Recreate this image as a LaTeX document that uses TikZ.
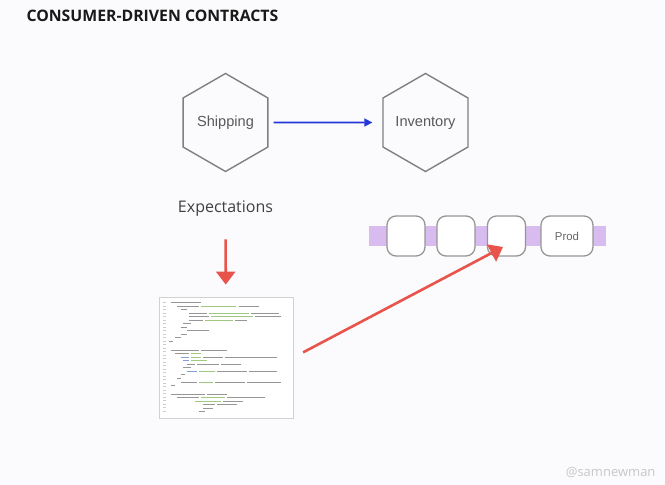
\documentclass[tikz,border=0pt]{standalone}
\usepackage{fontspec}
\setmainfont{Open Sans}
\newfontfamily\helv{Liberation Sans}
\usetikzlibrary{shapes.geometric,arrows.meta}

\definecolor{bgcol}{RGB}{251,251,253}
\definecolor{hexgray}{RGB}{128,128,128}
\definecolor{boxgray}{RGB}{150,150,150}
\definecolor{callblue}{RGB}{35,55,220}
\definecolor{testred}{RGB}{232,84,76}
\definecolor{pipepurple}{RGB}{216,188,240}
\definecolor{cg}{RGB}{150,150,150}
\definecolor{cgr}{RGB}{160,200,130}
\definecolor{cb}{RGB}{130,160,215}

\begin{document}
\begin{tikzpicture}[x=1pt,y=1pt,
  service/.style={regular polygon,regular polygon sides=6,shape border rotate=30,
    draw=hexgray,line width=1.4pt,minimum size=98pt,inner sep=0pt,
    font=\helv\fontsize{14.6}{16}\selectfont,text=black!65},
  stage/.style={draw=boxgray,line width=1.3pt,fill=white,rounded corners=9pt,
    minimum width=38pt,minimum height=40pt,inner sep=0pt,
    font=\helv\fontsize{11.4}{13}\selectfont,text=black!60},
  call/.style={draw=callblue,line width=1.6pt,-{Triangle[width=8pt,length=8pt]}},
  test/.style={draw=testred,line width=2.6pt,-{Triangle[width=19pt,length=13pt]}},
  node distance=50pt]
  \useasboundingbox[fill=bgcol] (0,0) rectangle (665,485);
  \node[anchor=base west,font=\bfseries\fontsize{15.8}{18}\selectfont,text=black!90] (title) at (23,463) {CONSUMER-DRIVEN CONTRACTS};

  % services
  \node[service] (ship) at (225.5,362.5) {Shipping};
  \node[service] (inv) [right of = ship, node distance=200pt] {Inventory};
  \node[font=\fontsize{16}{18}\selectfont,text=black!75,anchor=base] (exp) at (225.5,272) {Expectations};

  % contract document
  \node[draw=black!18,line width=0.8pt,fill=white,minimum width=134pt,minimum height=121pt,inner sep=0pt] (doc) at (226,127.5) {};
  \foreach \dy in {6,9.5,...,117}
    \draw[black!20,line width=0.8pt] ([xshift=4pt,yshift=-\dy pt]doc.north west) -- ++(3,0);
  \foreach \dy/\dx/\len/\col in {6/12/30/cg, 10/18/22/cg, 10/42/35/cgr, 10/80/20/cg, 13/22/6/cg,
      17/30/18/cg, 17/50/40/cgr, 17/92/28/cg, 20/30/20/cg, 20/52/42/cgr, 20/96/26/cg,
      24/30/14/cg, 24/46/28/cgr, 24/76/12/cg, 27/24/8/cg, 31/22/6/cg, 34/28/22/cg,
      38/22/6/cg, 41/16/6/cg, 45/10/4/cg,
      54/12/28/cg, 54/42/26/cg, 57/16/14/cg, 57/32/10/cgr,
      61/22/8/cb, 61/32/10/cgr, 61/44/20/cg, 61/66/52/cg, 64/24/6/cb, 64/32/16/cgr,
      68/28/8/cg, 68/38/22/cg, 68/62/20/cg, 71/24/8/cg,
      75/28/10/cb, 75/40/16/cgr, 75/58/30/cg, 75/90/28/cg, 78/22/4/cg, 82/18/4/cg,
      86/22/16/cg, 86/40/14/cgr, 86/56/30/cg, 86/88/34/cg, 89/12/4/cg,
      98/12/34/cg, 98/48/20/cg, 101/18/22/cg, 101/42/24/cgr, 101/68/38/cg,
      105/36/26/cgr, 105/64/20/cg, 108/44/12/cg, 108/58/20/cg, 112/44/10/cg, 115/40/6/cg}
    \draw[\col,line width=0.9pt] ([xshift=\dx pt,yshift=-\dy pt]doc.north west) -- ++(\len,0);

  % pipeline
  \fill[pipepurple] (369,239) rectangle (606,259);
  \node[stage] (b1) at (406,249) {};
  \node[stage] (b2) [right of = b1] {};
  \node[stage] (b3) [right of = b2, node distance=50.5pt] {};
  \node[stage,minimum width=52pt] (prod) [right of = b3, node distance=60.5pt] {Prod};
  \coordinate (hit) at ([xshift=-3.5pt,yshift=-11pt]b3.center);

  \node[anchor=east,font=\fontsize{13}{15}\selectfont,text=black!22] (tag) at (659,13) {@samnewman};

  \path
    (ship) edge[call,shorten <=5pt,shorten >=10pt] (inv)
    (exp) edge[test,shorten <=19pt,shorten >=12pt] (doc)
    (doc.east) edge[test,shorten <=11pt] (hit)
    ;
\end{tikzpicture}
\end{document}
